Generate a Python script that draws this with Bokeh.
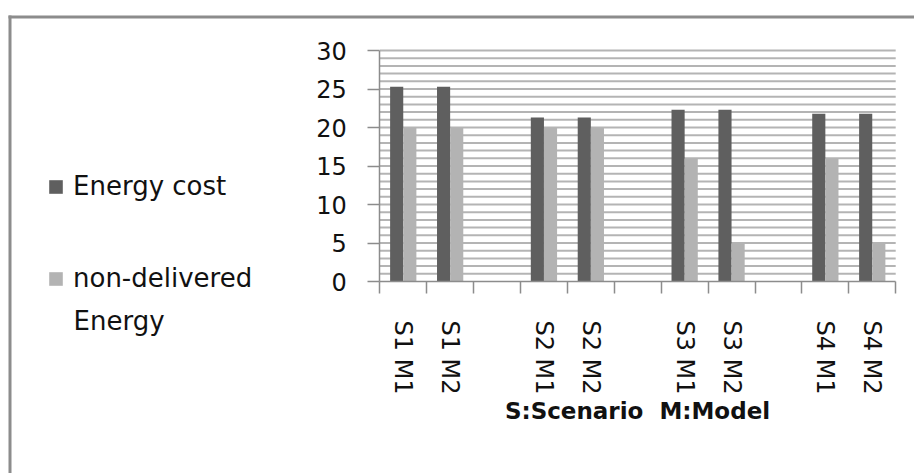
from bokeh.plotting import figure
from bokeh.models import Range1d, FixedTicker, Legend, LegendItem, Label, ColumnDataSource
from bokeh.transform import dodge
from bokeh.embed import file_html
from bokeh.resources import INLINE

categories = ["S1 M1", "S1 M2", "", "S2 M1", "S2 M2", "", "S3 M1", "S3 M2", "", "S4 M1", "S4 M2"]
energy_cost = [25.3, 25.3, None, 21.3, 21.3, None, 22.3, 22.3, None, 21.8, 21.8]
non_delivered = [20, 20, None, 20, 20, None, 16, 5, None, 16, 5]
y_ticks = [0, 5, 10, 15, 20, 25, 30]
series_names = ["Energy cost", "non-delivered"]
legend_second_line = "Energy"
x_title = "S:Scenario\u00a0 M:Model"

FONT = "DejaVu Sans"
DARK = "#5f5f5f"
LIGHT = "#b3b3b3"
AXIS = "#8c8c8c"
TXT = "#111111"

# ---- layout (page pixels) ----
CX, CY, W, H = 0, 0, 914, 473          # canvas position/size on the page
L, R, T, B = 379.3, 895.2, 50.0, 281.0  # plot area on the page
NCAT = len(categories)
YMAX = 30
ppx = (R - L) / NCAT
ppy = (B - T) / YMAX
x0 = -(L - CX) / ppx
x1 = NCAT + (CX + W - R) / ppx
y0 = -(CY + H - B) / ppy
y1 = YMAX + (T - CY) / ppy


def dx(px):
    return x0 + (px - CX) / ppx


def dy(py):
    return y1 - (py - CY) / ppy


idx = [i for i, c in enumerate(categories) if c]
src = ColumnDataSource(dict(
    x=[i + 0.5 for i in idx],
    cost=[energy_cost[i] for i in idx],
    nd=[non_delivered[i] for i in idx],
))

p = figure(width=W, height=H, output_backend="svg", toolbar_location=None,
           x_range=Range1d(x0, x1), y_range=Range1d(y0, y1),
           min_border_left=0, min_border_right=0, min_border_top=0, min_border_bottom=0)
p.outline_line_color = None
p.background_fill_color = "white"
p.border_fill_color = "white"
p.xgrid.visible = False
p.ygrid.visible = False

# chart border (top and left edges visible)
p.quad(left=[dx(8), dx(8)], right=[dx(CX + W), dx(11)],
       top=[dy(15), dy(15)], bottom=[dy(18), dy(CY + H)],
       fill_color="#8c8c8c", line_color=None)

# horizontal gridlines
gy = list(range(1, YMAX + 1))
p.segment(x0=[0] * len(gy), x1=[NCAT] * len(gy), y0=gy, y1=gy,
          line_color="#b4b4b4", line_width=2)

r1 = p.vbar(x=dodge("x", -0.14, range=p.x_range), top="cost", width=0.28, source=src,
            fill_color=DARK, line_color=None)
r2 = p.vbar(x=dodge("x", 0.14, range=p.x_range), top="nd", width=0.28, source=src,
            fill_color=LIGHT, line_color=None)

# y axis
ya = p.yaxis[0]
ya.fixed_location = 0
ya.bounds = (0, YMAX)
ya.ticker = FixedTicker(ticks=y_ticks, minor_ticks=[])
ya.axis_line_color = AXIS
ya.axis_line_width = 1.5
ya.major_tick_line_color = AXIS
ya.major_tick_line_width = 1.5
ya.major_tick_out = 12
ya.major_tick_in = 0
ya.minor_tick_line_color = None
ya.major_label_standoff = 21
ya.major_label_text_font = FONT
ya.major_label_text_font_size = "24px"
ya.major_label_text_color = TXT

# x axis
xa = p.xaxis[0]
xa.fixed_location = 0
xa.bounds = (0, NCAT)
xa.ticker = FixedTicker(ticks=[i + 0.5 for i in idx], minor_ticks=list(range(NCAT + 1)))
xa.major_label_overrides = {i + 0.5: categories[i] for i in idx}
xa.major_label_orientation = "vertical"
xa.axis_line_color = AXIS
xa.axis_line_width = 1.5
xa.major_tick_line_color = None
xa.major_tick_out = 0
xa.major_tick_in = 0
xa.minor_tick_line_color = AXIS
xa.minor_tick_line_width = 1.5
xa.minor_tick_out = 12
xa.minor_tick_in = 0
xa.major_label_standoff = 27
xa.major_label_text_font = FONT
xa.major_label_text_font_size = "24px"
xa.major_label_text_color = TXT
xa.axis_label = x_title
xa.axis_label_text_font = FONT
xa.axis_label_text_font_style = "bold"
xa.axis_label_text_font_size = "23px"
xa.axis_label_standoff = 0
xa.axis_label_text_color = TXT

# legend: top-left corner at page (47, 171); location = bottom-left offset from frame bottom-left
legend_h = 30 + 62 + 30
legend = Legend(items=[LegendItem(label=series_names[0], renderers=[r1]),
                       LegendItem(label=series_names[1], renderers=[r2])],
                location=(47 - CX, (CY + H) - (171 + legend_h)), orientation="vertical",
                padding=0, margin=0, spacing=62,
                glyph_width=17, glyph_height=17, label_standoff=9, label_height=30,
                label_text_font=FONT, label_text_font_size="26px", label_text_color=TXT,
                border_line_color=None, background_fill_alpha=0)
p.add_layout(legend)

p.add_layout(Label(x=73 - CX, y=(CY + H) - 320, x_units="screen", y_units="screen",
                   text=legend_second_line, text_font=FONT, text_font_size="26px",
                   text_baseline="alphabetic", text_color=TXT))

open("out.html", "w").write(file_html(p, INLINE))
